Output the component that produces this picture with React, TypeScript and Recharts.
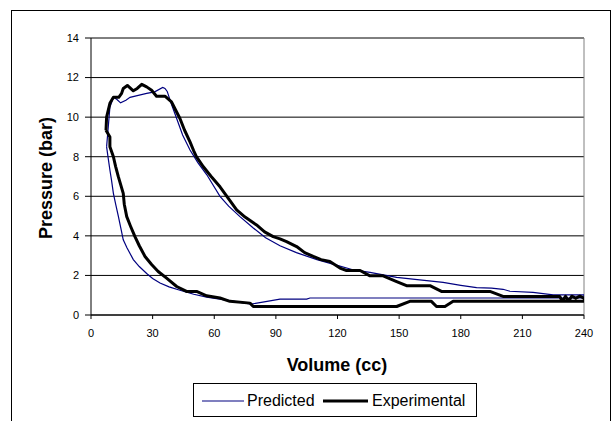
import React from 'react';
import { LineChart, Line, XAxis, YAxis, CartesianGrid, ReferenceLine } from 'recharts';

const xTicks = [0, 30, 60, 90, 120, 150, 180, 210, 240];
const yTicks = [0, 2, 4, 6, 8, 10, 12, 14];

const predictedV = [
  7.6, 8.4, 9.2, 10.9, 12.5, 14.4, 17, 19, 23, 27.1, 31, 34.9, 36, 37.1, 39, 41.7, 44.6, 48.2, 52, 56.3,
  62.8, 67, 72.5, 79, 85, 92, 100, 110, 119.5, 127, 135.8, 148.8, 160, 171.4, 180, 187.7, 195, 200.6,
  203.9, 215.2, 225, 240,
  240, 220, 200, 180, 150, 120, 106.6, 105, 92, 85, 78, 72, 66, 56.3, 50, 43.3, 38, 33.6, 30, 27.1,
  23.5, 20.6, 17.5, 15.7, 14.5, 13.3, 12, 10.9, 10, 9.2, 8.4, 7.6,
];
const predictedP = [
  8.5, 9.5, 10.5, 11.0, 10.9, 10.72, 10.85, 11.0, 11.1, 11.2, 11.28, 11.5, 11.45, 11.3, 10.7, 9.93, 9.1, 8.34, 7.7, 7.1,
  6.0, 5.5, 4.97, 4.4, 3.9, 3.5, 3.15, 2.8, 2.52, 2.3, 2.15, 1.9, 1.78, 1.65, 1.5, 1.38, 1.36, 1.3,
  1.2, 1.14, 1.02, 1.02,
  0.86, 0.86, 0.86, 0.86, 0.86, 0.86, 0.86, 0.8, 0.8, 0.68, 0.55, 0.65, 0.75, 0.9, 1.05, 1.25, 1.42, 1.62, 1.85, 2.1,
  2.45, 2.8, 3.4, 3.8, 4.4, 5.0, 5.6, 6.15, 6.8, 7.33, 7.9, 8.5,
];

const experimentalV = [
  7.3, 7.6, 9.2, 10.9, 13.5, 14.9, 15.7, 17.7, 20.6, 22.5, 24.7, 27.1, 29.5, 31.9, 36, 39.2, 41, 43.3, 45.5, 48.2,
  50, 51.3, 54.7, 58.5, 62.8, 66.5, 70.9, 75, 80.6, 84.5, 88.7, 92, 95.2, 100.1, 104, 108.2, 112, 116.3, 121.2,
  124.4, 131, 135.8, 142.2, 148.8, 153.6, 165, 170.6, 194.2, 200.6, 228.2,
  229.5, 231, 232.5, 234, 236, 238, 240, 240,
  176.3, 172.3, 168.2, 165.7, 155.2, 148.8, 92, 79, 77.4, 67.6, 62.8, 56.3, 51.4, 46.5, 41.7, 36.8, 32.7, 29.5,
  26.3, 23.5, 21.4, 19.2, 17.4, 16.2, 15.7, 13.3, 12, 10.9, 9.2, 9.2, 7.3,
];
const experimentalP = [
  9.34, 10.0, 10.7, 11.0, 11.0, 11.2, 11.45, 11.6, 11.33, 11.45, 11.66, 11.53, 11.36, 11.06, 11.06, 10.77, 10.4, 9.93, 9.35, 8.75,
  8.3, 8.0, 7.49, 7.0, 6.48, 5.95, 5.31, 4.95, 4.55, 4.2, 3.96, 3.85, 3.71, 3.46, 3.15, 2.96, 2.8, 2.7, 2.37,
  2.25, 2.25, 1.98, 1.98, 1.69, 1.48, 1.48, 1.19, 1.19, 0.94, 0.94,
  0.7, 0.95, 0.7, 0.95, 0.85, 0.95, 0.85, 0.69,
  0.69, 0.43, 0.43, 0.69, 0.69, 0.43, 0.43, 0.43, 0.6, 0.69, 0.86, 0.97, 1.19, 1.19, 1.44, 1.86, 2.2, 2.55,
  2.96, 3.5, 3.96, 4.5, 4.97, 5.6, 6.15, 6.99, 7.5, 8.0, 8.5, 9.0, 9.34,
];

const predicted = predictedV.map((v, i) => ({ v, p: predictedP[i] }));
const experimental = experimentalV.map((v, i) => ({ v, p: experimentalP[i] }));

const FONT = 'Arial, "Liberation Sans", sans-serif';

export default function App() {
  return (
    <div style={{ position: 'absolute', left: 0, top: 0, width: 613, height: 421, background: '#fff', overflow: 'hidden', fontFamily: FONT }}>
      <div style={{ position: 'absolute', left: 11, top: 10, width: 600, height: 430, border: '1px solid #000', boxSizing: 'border-box' }} />
      <div style={{ position: 'absolute', left: 0, top: 0 }}>
        <LineChart width={613} height={421} margin={{ top: 38, right: 29, bottom: 76, left: 51 }}>
          <CartesianGrid horizontal vertical={false} stroke="#000" strokeOpacity={1} />
          <XAxis
            dataKey="v"
            type="number"
            domain={[0, 240]}
            ticks={xTicks}
            interval={0}
            height={30}
            tickSize={4}
            tickMargin={10}
            stroke="#000"
            tick={{ fill: '#000', fontSize: 11, fontFamily: FONT }}
            allowDataOverflow
          />
          <YAxis
            dataKey="p"
            type="number"
            domain={[0, 14]}
            ticks={yTicks}
            interval={0}
            width={40}
            tickSize={6}
            tickMargin={6}
            stroke="#000"
            tick={{ fill: '#000', fontSize: 11, fontFamily: FONT }}
            allowDataOverflow
          />
          <ReferenceLine y={14} stroke="#808080" strokeWidth={1} />
          <ReferenceLine x={240} stroke="#808080" strokeWidth={1} />
          <Line data={predicted} dataKey="p" type="linear" stroke="#000080" strokeWidth={1.2} dot={false} isAnimationActive={false} />
          <Line data={experimental} dataKey="p" type="linear" stroke="#000" strokeWidth={3} strokeLinejoin="round" dot={false} isAnimationActive={false} />
        </LineChart>
      </div>
      <div style={{ position: 'absolute', left: 46, top: 178, transform: 'translate(-50%, -50%) rotate(-90deg)', whiteSpace: 'nowrap', fontWeight: 'bold', fontSize: 18 }}>
        Pressure (bar)
      </div>
      <div style={{ position: 'absolute', left: 337, top: 365, transform: 'translate(-50%, -50%)', whiteSpace: 'nowrap', fontWeight: 'bold', fontSize: 18 }}>
        Volume (cc)
      </div>
      <div style={{ position: 'absolute', left: 193, top: 383, width: 284, height: 34, border: '1px solid #000', boxSizing: 'border-box', background: '#fff' }}>
        <svg width={284} height={34} style={{ position: 'absolute', left: 0, top: 0 }}>
          <line x1={8} x2={50} y1={17} y2={17} stroke="#000080" strokeWidth={1.2} />
          <line x1={129} x2={174} y1={17} y2={17} stroke="#000" strokeWidth={3} />
        </svg>
        <div style={{ position: 'absolute', left: 53, top: 17, transform: 'translateY(-50%)', fontSize: 16, whiteSpace: 'nowrap' }}>Predicted</div>
        <div style={{ position: 'absolute', left: 178, top: 17, transform: 'translateY(-50%)', fontSize: 16, whiteSpace: 'nowrap' }}>Experimental</div>
      </div>
    </div>
  );
}
